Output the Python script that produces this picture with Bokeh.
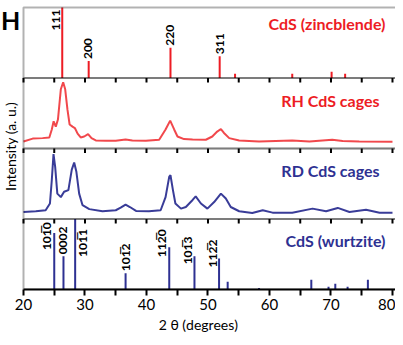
import math
from bokeh.plotting import figure
from bokeh.models import Label, FixedTicker, ColumnDataSource, BoxAnnotation
from bokeh.core.properties import value
from bokeh.embed import file_html
from bokeh.resources import INLINE

# ---------------- data ----------------
TICKS = [20, 25, 30, 35, 40, 45, 50, 55, 60, 65, 70, 75, 80]
TICK_LABELS = {20: "20", 30: "30", 40: "40", 50: "50", 60: "60", 70: "70", 80: "80"}

# CdS zincblende reference pattern
ZB_POS = [26.3, 30.6, 43.9, 51.9, 54.4, 63.7, 70.1, 72.3]
ZB_INT = [1.00, 0.24, 0.43, 0.31, 0.06, 0.06, 0.09, 0.06]
ZB_LABELS = ["111", "200", "220", "311", "", "", "", ""]

# CdS wurtzite reference pattern
WZ_POS = [25.0, 26.5, 28.4, 36.6, 43.7, 47.8, 51.8, 53.2, 58.3, 66.8, 69.6, 70.7, 72.7, 76.0]
WZ_INT = [0.80, 0.47, 1.00, 0.23, 0.60, 0.47, 0.44, 0.11, 0.02, 0.14, 0.04, 0.08, 0.04, 0.14]
WZ_LABELS = ["101\u03050", "0002", "101\u03051", "101\u03052", "112\u03050", "101\u03053", "112\u03052",
             "", "", "", "", "", "", ""]

# RH CdS cages
RH_X = [20.0, 21.5, 23.1, 24.2, 24.6, 24.9, 25.25, 25.6, 26.07, 26.45, 26.78, 27.15, 27.5, 27.97,
        28.35, 28.8, 29.3, 29.87, 30.5, 31.06, 31.76, 33.4, 35.0, 36.6, 37.7, 39.9, 42.06, 43.1,
        43.85, 44.5, 45.04, 46.1, 47.5, 49.65, 50.7, 51.5, 52.1, 52.6, 53.45, 55.07, 58.3, 63.7,
        66.5, 70.2, 71.9, 74.6, 80.0]
RH_Y = [0.10, 0.14, 0.147, 0.157, 0.27, 0.386, 0.31, 0.41, 0.84, 0.94, 0.84, 0.55, 0.34, 0.31,
        0.29, 0.21, 0.157, 0.17, 0.204, 0.147, 0.114, 0.11, 0.11, 0.128, 0.114, 0.11, 0.124, 0.27,
        0.395, 0.27, 0.17, 0.133, 0.128, 0.124, 0.17, 0.24, 0.276, 0.22, 0.147, 0.114, 0.10, 0.114,
        0.10, 0.124, 0.105, 0.10, 0.095]

# RD CdS cages
RD_X = [20.0, 22.0, 23.6, 24.3, 24.6, 24.88, 25.15, 25.5, 26.07, 26.6, 27.3, 27.85, 28.24, 28.6,
        29.05, 29.6, 30.7, 32.85, 35.0, 35.8, 36.6, 37.3, 38.3, 40.4, 42.3, 43.1, 43.7, 43.9, 44.3,
        44.7, 45.6, 46.4, 47.5, 48.0, 48.85, 49.9, 51.0, 52.1, 52.9, 53.7, 55.07, 57.2, 58.9, 60.5,
        63.7, 67.0, 69.2, 71.1, 73.0, 75.7, 77.9, 80.0]
RD_Y = [0.10, 0.11, 0.124, 0.22, 0.55, 0.92, 0.74, 0.36, 0.31, 0.386, 0.41, 0.70, 0.80, 0.67,
        0.36, 0.196, 0.14, 0.11, 0.124, 0.16, 0.204, 0.17, 0.114, 0.11, 0.124, 0.31, 0.60, 0.62, 0.41,
        0.22, 0.147, 0.17, 0.27, 0.32, 0.22, 0.147, 0.24, 0.36, 0.29, 0.17, 0.11, 0.086, 0.124, 0.09,
        0.09, 0.147, 0.11, 0.157, 0.10, 0.13, 0.09, 0.09]

# ---------------- styles / layout ----------------
RED = "#ed1c24"
RED_LINE = "#ef3438"
BLUE = "#2e3192"
FONT = "Lato"

# label offsets in px (x, y) relative to stick top
ZB_OFF = [(-6, 23), (-1, -2), (0, -2), (0, -2), (0, 0), (0, 0), (0, 0), (0, 0)]
WZ_OFF = [(-8, 17), (0, -2), (7, 38), (0, -2), (-8, 10), (-7, 8), (-7, 9)] + [(0, 0)] * 7

BASE_ZB, BASE_RH, BASE_RD, BASE_WZ = 3, 2, 1, 0
X_MIN = 20

p = figure(width=395, height=337, x_range=(16.26, 80.49), y_range=(0, 4.099),
           output_backend="svg", toolbar_location=None,
           min_border_left=0, min_border_right=0, min_border_top=0, min_border_bottom=48)
p.outline_line_color = None
p.xgrid.visible = False
p.ygrid.visible = False
p.yaxis.visible = False
p.background_fill_color = "white"
p.border_fill_color = "white"

xa = p.xaxis[0]
xa.bounds = (X_MIN, 81)
xa.ticker = FixedTicker(ticks=TICKS)
xa.major_label_overrides = {t: TICK_LABELS.get(t, "") for t in TICKS}
xa.axis_line_width = 2
xa.major_tick_line_width = 2
xa.major_tick_in = 0
xa.major_tick_out = 6
xa.minor_tick_line_color = None
xa.major_label_standoff = 3
xa.major_label_text_font = FONT
xa.major_label_text_font_size = "15px"
xa.major_label_text_color = "black"
xa.axis_label = "2 \u03b8 (degrees)"
xa.axis_label_standoff = 3
xa.axis_label_text_font = FONT
xa.axis_label_text_font_size = "14px"
xa.axis_label_text_font_style = "normal"
xa.axis_label_text_color = "black"

# panel frames
for b in [BASE_ZB, BASE_RH, BASE_RD, BASE_WZ]:
    p.add_layout(BoxAnnotation(left=X_MIN, right=81, bottom=b, top=b + 1,
                               fill_alpha=0, line_color="black", line_width=2))

# inner ticks at panel boundaries (pointing down)
tick_len = 0.064
for b in [BASE_ZB, BASE_RH, BASE_RD]:
    p.segment(x0=TICKS, y0=[b] * len(TICKS), x1=TICKS, y1=[b - tick_len] * len(TICKS),
              line_color="black", line_width=2)

# sticks
def sticks(pos, inten, base, color, labels, offs):
    src = ColumnDataSource(dict(x=pos, y0=[base] * len(pos), y1=[base + v for v in inten]))
    p.segment(x0="x", y0="y0", x1="x", y1="y1", source=src, line_color=color, line_width=2)
    lx, ly, lt, ox, oy = [], [], [], [], []
    for x, v, t, o in zip(pos, inten, labels, offs):
        if t:
            lx.append(x); ly.append(base + v); lt.append(t); ox.append(o[0]); oy.append(o[1])
    lsrc = ColumnDataSource(dict(x=lx, y=ly, text=lt, ox=ox, oy=oy))
    p.text(x="x", y="y", text="text", x_offset="ox", y_offset="oy", source=lsrc,
           angle=math.pi / 2, text_align="left", text_baseline="middle",
           text_font=value(FONT), text_font_style="bold", text_font_size="12px",
           text_color="black")

sticks(ZB_POS, ZB_INT, BASE_ZB, RED, ZB_LABELS, ZB_OFF)
sticks(WZ_POS, WZ_INT, BASE_WZ, BLUE, WZ_LABELS, WZ_OFF)

# measured patterns
p.line(RH_X, [BASE_RH + v for v in RH_Y], line_color=RED_LINE, line_width=2, line_alpha=0.9)
p.line(RD_X, [BASE_RD + v for v in RD_Y], line_color=BLUE, line_width=2, line_alpha=0.95)

# panel titles
def title(txt, x, y, color):
    p.add_layout(Label(x=x, y=y, text=txt, text_align="right", text_baseline="middle",
                       text_font=FONT, text_font_style="bold", text_font_size="16px",
                       text_color=color))

title("CdS (zincblende)", 78.86, 3.773, RED)
title("RH CdS cages", 77.9, 2.68, RED)
title("RD CdS cages", 77.9, 1.688, BLUE)
title("CdS (wurtzite)", 78.86, 0.695, BLUE)

# panel letter
p.add_layout(Label(x=16.34, y=3.816, text="H", text_align="left", text_baseline="alphabetic",
                   text_font=FONT, text_font_style="bold", text_font_size="25px", text_color="black"))

# y label
p.add_layout(Label(x=17.89, y=2.03, text="Intensity (a. u.)", angle=math.pi / 2,
                   text_align="center", text_baseline="middle",
                   text_font=FONT, text_font_size="14px", text_color="black"))

open("out.html", "w").write(file_html(p, INLINE))
